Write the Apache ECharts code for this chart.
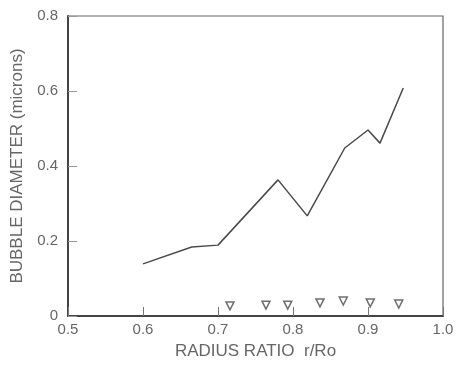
<!DOCTYPE html>
<html><head><meta charset="utf-8">
<script src="https://cdn.jsdelivr.net/npm/echarts@6/dist/echarts.min.js"></script>
<style>html,body{margin:0;padding:0;background:#fff}#c{width:457px;height:365px}</style>
</head><body><div id="c"></div>
<script>
const lineX = [0.60, 0.665, 0.70, 0.78, 0.819, 0.869, 0.90, 0.916, 0.947];
const lineY = [0.139, 0.184, 0.189, 0.363, 0.267, 0.448, 0.496, 0.461, 0.608];
const markX = [0.716, 0.764, 0.793, 0.836, 0.867, 0.903, 0.941];
const markY = [0.027, 0.029, 0.029, 0.035, 0.040, 0.035, 0.032];
const xTicks = [0.5, 0.6, 0.7, 0.8, 0.9, 1.0];
const yTicks = [0, 0.2, 0.4, 0.6, 0.8];

const ink = '#4a4a4a';
const font = 'Liberation Sans';
const chart = echarts.init(document.getElementById('c'), null, {renderer: 'canvas'});
chart.setOption({
  animation: false,
  backgroundColor: '#fff',
  grid: {left: 68, right: 14, top: 16, bottom: 49, show: true, borderColor: '#666', borderWidth: 1.2},
  xAxis: {
    type: 'value', min: 0.5, max: 1.0, interval: 0.1,
    name: 'RADIUS RATIO  r/Ro', nameLocation: 'middle', nameGap: 27,
    nameTextStyle: {color: '#666', fontSize: 17, fontFamily: font},
    axisLine: {show: true, lineStyle: {color: '#444', width: 2}},
    axisTick: {show: true, inside: true, length: 9, lineStyle: {color: '#777'}},
    splitLine: {show: false},
    axisLabel: {color: '#666', fontSize: 15, fontFamily: font, margin: 6,
      formatter: v => { const t = xTicks.find(a => Math.abs(a - v) < 1e-6); return t === undefined ? '' : t.toFixed(1); }}
  },
  yAxis: {
    type: 'value', min: 0, max: 0.8, interval: 0.2,
    name: 'BUBBLE DIAMETER (microns)', nameLocation: 'middle', nameGap: 41,
    nameTextStyle: {color: '#666', fontSize: 17, fontFamily: font},
    axisLine: {show: true, lineStyle: {color: '#444', width: 2}},
    axisTick: {show: true, inside: true, length: 9, lineStyle: {color: '#999'}},
    splitLine: {show: false},
    axisLabel: {color: '#666', fontSize: 15, fontFamily: font, margin: 10,
      formatter: v => { const t = yTicks.find(a => Math.abs(a - v) < 1e-6); return t === undefined ? '' : (t === 0 ? '0' : t.toFixed(1)); }}
  },
  series: [
    {type: 'line', data: lineX.map((x, i) => [x, lineY[i]]), showSymbol: false,
     lineStyle: {color: ink, width: 1.5}},
    {type: 'scatter', data: markX.map((x, i) => [x, markY[i]]), symbol: 'triangle', symbolRotate: 180, symbolSize: 8,
     itemStyle: {color: '#fff', borderColor: ink, borderWidth: 1.5}}
  ]
});
</script></body></html>
